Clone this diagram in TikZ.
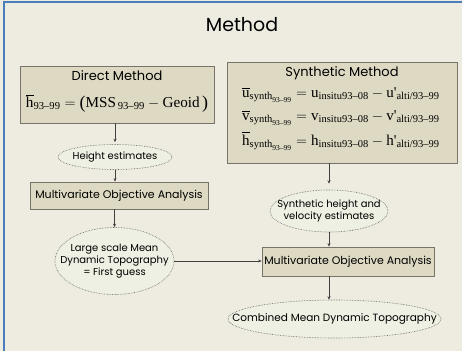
\documentclass[tikz,border=0pt]{standalone}
\usepackage{amsmath}
\usepackage{fontspec}
\setmainfont{Poppins}
\newfontfamily\tms{Liberation Serif}
\usetikzlibrary{shapes.geometric,arrows.meta}
\newcommand\Tx[1]{\text{\tms #1}}
\newcommand\Bp[1]{\raisebox{-0.5pt}{\tms\fontsize{18}{18}\selectfont #1}}
\definecolor{bg}{HTML}{EEECE1}
\definecolor{boxfill}{HTML}{DDD9C3}
\definecolor{boxline}{HTML}{77736A}
\definecolor{ovalfill}{HTML}{EDF0E2}
\definecolor{ovalline}{HTML}{606060}
\definecolor{arrline}{HTML}{404040}
\definecolor{frame}{HTML}{4A7EBB}
\begin{document}
\begin{tikzpicture}[x=1pt,y=-1pt,
  lbl/.style={font=\fontsize{10}{12}\selectfont, align=center, inner sep=0pt},
  eqn/.style={font=\fontsize{15}{18}\selectfont, inner sep=0pt},
  box/.style={draw=boxline, fill=boxfill, line width=0.8pt, inner sep=0pt},
  oval/.style={ellipse, draw=ovalline, fill=ovalfill, densely dotted, line width=0.6pt, inner sep=0pt},
  arr/.style={-{Stealth[length=3.5pt,width=3pt]}, line width=0.6pt, draw=arrline}]
\fill[bg] (0,0) rectangle (462,351);
\useasboundingbox (0,0) rectangle (462,351);
\draw[frame, line width=1.5pt] (4,351) -- (4,2) -- (462,2);
\node[font=\fontsize{19}{23}\selectfont] (title) at (242,25) {Method};
% direct method
\node[box, minimum width=194pt, minimum height=57pt] (direct) at (117,94.5) {};
\node[lbl, font=\fontsize{13}{15}\selectfont] (directT) at (117,76) {Direct Method};
\node[eqn, font=\fontsize{15.2}{18}\selectfont] (eq1) at (117,103) {$\overline{\Tx{h}}_{\Tx{93\textendash 99}}=\text{\Bp{(}}\Tx{MSS}_{\,\Tx{93\textendash 99}}-\Tx{Geoid}\,\text{\Bp{)}}$};
% synthetic method
\node[box, minimum width=230pt, minimum height=101pt] (synth) at (342,112.5) {};
\node[lbl, font=\fontsize{13}{15}\selectfont] (synthT) at (342,73) {Synthetic Method};
\node[eqn, anchor=west] (eqU) at (242,95) {$\overline{\Tx{u}}_{\Tx{synth}_{\Tx{93\textendash 99}}}=\Tx{u}_{\Tx{insitu93\textendash 08}}-\Tx{u'}_{\Tx{alti/93\textendash 99}}$};
\node[eqn, anchor=west] (eqV) at (242,118) {$\overline{\Tx{v}}_{\Tx{synth}_{\Tx{93\textendash 99}}}=\Tx{v}_{\Tx{insitu93\textendash 08}}-\Tx{v'}_{\Tx{alti/93\textendash 99}}$};
\node[eqn, anchor=west] (eqH) at (242,141) {$\overline{\Tx{h}}_{\Tx{synth}_{\Tx{93\textendash 99}}}=\Tx{h}_{\Tx{insitu93\textendash 08}}-\Tx{h'}_{\Tx{alti/93\textendash 99}}$};
% left column
\node[oval, minimum width=114pt, minimum height=25pt] (height) at (115,157) {};
\node[lbl] (heightT) at (115,157) {Height estimates};
\node[box, minimum width=178pt, minimum height=27pt] (moa1) at (119,195.5) {};
\node[lbl, font=\fontsize{11}{13}\selectfont] (moa1T) at (119,195.5) {Multivariate Objective Analysis};
\node[oval, minimum width=119pt, minimum height=67pt] (large) at (114.5,261) {};
\node[lbl] (largeT) at (114.5,261) {Large scale Mean\\Dynamic Topography\\= First guess};
% right column
\node[oval, minimum width=118pt, minimum height=42pt] (synest) at (329,211) {};
\node[lbl] (synestT) at (329,211) {Synthetic height and\\velocity estimates};
\node[box, minimum width=172pt, minimum height=29pt] (moa2) at (348,261.5) {};
\node[lbl, font=\fontsize{11}{13}\selectfont] (moa2T) at (348,261.5) {Multivariate Objective Analysis};
\node[oval, minimum width=213pt, minimum height=38pt] (final) at (334.5,319) {};
\node[lbl, font=\fontsize{10.5}{12}\selectfont] (finalT) at (334.5,319) {Combined Mean Dynamic Topography};
% connectors
\draw[arr] (direct.south -| height.north) -- ([yshift=2pt]height.north);
\draw[arr] (height.south) -- (height.south |- moa1.north);
\draw[arr] (moa1.south -| large.north) -- (large.north);
\draw[arr] (synth.south -| synest.north) -- ([yshift=6pt]synest.north);
\draw[arr] (synest.south) -- (synest.south |- moa2.north);
\draw[arr] (moa2.south -| synest.south) -- (final.north -| synest.south);
\draw[arr] (large.east) -- (large.east -| moa2.west);
\end{tikzpicture}
\end{document}
